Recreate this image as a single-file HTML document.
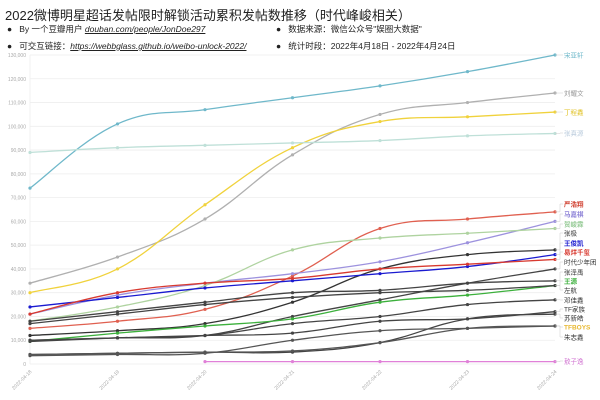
<!DOCTYPE html>
<html><head><meta charset="utf-8"><style>
body{margin:0;width:600px;height:400px;background:#fff;overflow:hidden;font-family:"Liberation Sans","Noto Sans CJK SC",sans-serif;}
.t{position:absolute;left:5px;top:5px;font-size:13px;color:#222;white-space:nowrap;}
.b{position:absolute;font-size:8.5px;color:#222;white-space:nowrap;}
.b i{font-style:italic;text-decoration:underline;}
</style></head><body>
<div class="t">2022微博明星超话发帖限时解锁活动累积发帖数推移（时代峰峻相关）</div>
<div class="b" style="left:7px;top:23px">●&nbsp;&nbsp;&nbsp;By 一个豆瓣用户 <i>douban.com/people/JonDoe297</i></div>
<div class="b" style="left:7px;top:40px">●&nbsp;&nbsp;&nbsp;可交互链接：<i>https://webbglass.github.io/weibo-unlock-2022/</i></div>
<div class="b" style="left:276px;top:23px">●&nbsp;&nbsp;&nbsp;数据来源：微信公众号"娱圈大数据"</div>
<div class="b" style="left:276px;top:40px">●&nbsp;&nbsp;&nbsp;统计时段：2022年4月18日 - 2022年4月24日</div>
<svg id="s" width="600" height="400" style="position:absolute;left:0;top:0"></svg>
<script>
var s=document.getElementById('s'),h='';
function Y(v){return 364-v*309/130;}
var X=[30,117.5,205,292.5,380,467.5,555];
for(var k=0;k<=13;k++){var y=Y(k*10);h+='<line x1="30" x2="555" y1="'+y+'" y2="'+y+'" stroke="#eee" stroke-width="0.8"/>';
h+='<text x="26" y="'+(y+2)+'" font-size="5" fill="#aaa" text-anchor="end">'+(k?(k*10)+',000':'0')+'</text>';}
h+='<line x1="30" x2="30" y1="55" y2="364" stroke="#eee" stroke-width="0.8"/>';
for(var i=0;i<7;i++){h+='<text transform="translate('+(X[i]+2)+',372) rotate(-45)" font-size="5" fill="#aaa" text-anchor="end">2022-04-'+(18+i)+'</text>';}
var S=[
['宋亚轩','#6fb8ca',[74,101,107,112,117,123,130],55,0,'#6fb8ca'],
['刘耀文','#b0b0b0',[34,45,61,88,105,110,114],93,0,'#999'],
['丁程鑫','#f0d23c',[30,40,67,91,102,104,106],112,0,'#e0c020'],
['张真源','#bfe0d8',[89,91,92,93,94,96,97],133,0,'#bcd'],
['严浩翔','#e06050',[15,18,23,37,57,61,64],204,1,'#d04030'],
['马嘉祺','#9d92de',[21,29,34,38,43,51,60],214,1,'#8f84d8'],
['贺峻霖','#afd3a0',[18,24,33,48,53,55,57],224,1,'#9c9'],
['张极','#333',[12,14,17,26,40,46,48],233,0,'#333'],
['王俊凯','#1a1ad0',[24,28,32,35,38,41,46],243,1,'#1a1ad0'],
['易烊千玺','#d83a30',[21,30,34,36,40,42,44],252,1,'#d83a30'],
['时代少年团','#444',[10,11,12,20,27,34,40],262,0,'#333'],
['张泽禹','#444',[18,22,26,30,31,34,35],272,0,'#333'],
['王源','#3cb03c',[9.5,13,16,19,26,29,33],281,1,'#3cb03c'],
['左航','#444',[17,21,25,28,30,31,33],290,0,'#333'],
['邓佳鑫','#444',[9.5,11,12,17,20,25,27],300,0,'#333'],
['TF家族','#444',[10,11,12,13,18,19,22],309,0,'#333'],
['苏新皓','#444',[4,4.5,5,5,9,19,21],318,0,'#333'],
['TFBOYS','#555',[3.5,4,4.5,10,14,15,16],327,1,'#e8b830'],
['朱志鑫','#555',[4,4.5,5,5.5,9,15,16],337,0,'#333'],
['敖子逸','#e080d8',[null,null,1,1,1,1,1],361,0,'#d070d0']];
S.forEach(function(r){
 var p=[];r[2].forEach(function(v,i){if(v!=null)p.push([X[i],Y(v)]);});
 var d='M'+p[0][0]+','+p[0][1];
 for(var i=0;i<p.length-1;i++){var p0=p[i-1]||p[i],p1=p[i],p2=p[i+1],p3=p[i+2]||p2;var t=0.2;
  d+=' C'+(p1[0]+(p2[0]-p0[0])*t)+','+(p1[1]+(p2[1]-p0[1])*t)+' '+(p2[0]-(p3[0]-p1[0])*t)+','+(p2[1]-(p3[1]-p1[1])*t)+' '+p2[0]+','+p2[1];}
 h+='<path d="'+d+'" fill="none" stroke="'+r[1]+'" stroke-width="1.3"/>';
 p.forEach(function(q){h+='<circle cx="'+q[0]+'" cy="'+q[1]+'" r="1.6" fill="'+r[1]+'"/>';});
 var ly=r[3],ey=p[p.length-1][1];
 h+='<polyline points="555,'+ey+' 560,'+ey+' 560,'+ly+' 563,'+ly+'" fill="none" stroke="#ccc" stroke-width="0.5"/>';
 h+='<text x="564" y="'+(ly+2.3)+'" font-size="6.5"'+(r[4]?' font-weight="bold"':'')+' fill="'+r[5]+'">'+r[0]+'</text>';
});
s.innerHTML=h;
</script>
</body></html>
